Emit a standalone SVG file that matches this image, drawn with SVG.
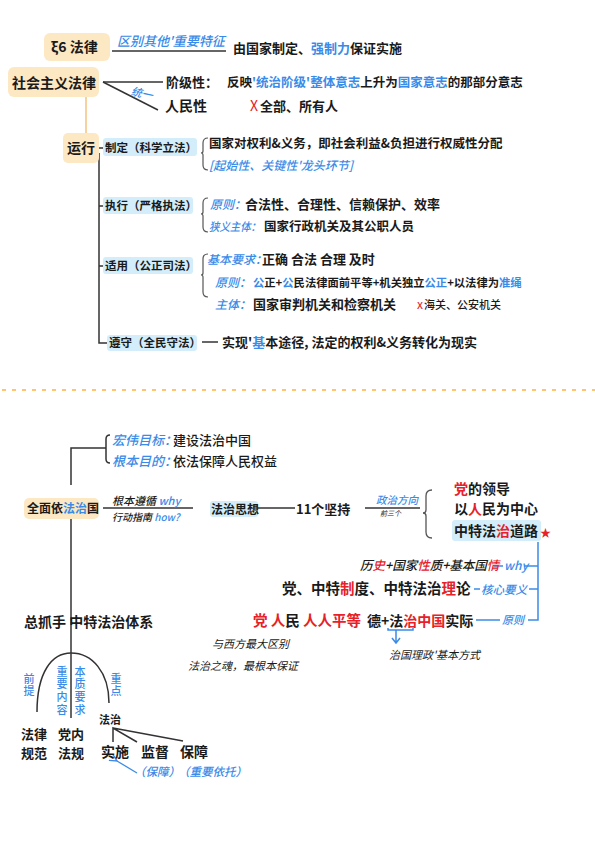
<svg xmlns="http://www.w3.org/2000/svg" width="595" height="842" viewBox="0 0 595 842">
<style>
text{font-family:"Noto Sans CJK SC","Noto Sans",sans-serif;}
.k{fill:#1a1a1a;font-weight:700}
.m{fill:#1a1a1a;font-weight:500}
.n{fill:#1a1a1a;font-weight:400}
.bi{fill:#3a8be8;font-style:italic;font-weight:500}
.b{fill:#3a8be8}
.r{fill:#e62129}
.ln{stroke:#333;stroke-width:1.5;fill:none}
.bl{stroke:#3a8be8;stroke-width:1.5;fill:none}
.or{fill:#fde8c4}
.hl{fill:#d3eefa}
.v{fill:#3a8be8;font-size:11px;font-weight:500;writing-mode:vertical-rl;letter-spacing:1.8px}
</style>
<defs>
<marker id="ah" viewBox="0 0 10 10" refX="1" refY="5" markerWidth="7" markerHeight="7" orient="auto-start-reverse"><path d="M9,1 L1,5 L9,9" fill="none" stroke="#3a8be8" stroke-width="1.5"/></marker>
</defs>
<rect width="595" height="842" fill="#fff"/>

<g id="connectors">
<line class="ln" x1="112" y1="51" x2="226" y2="51"/>
<line class="ln" x1="103" y1="82" x2="163" y2="82"/>
<line class="ln" x1="103" y1="82" x2="158" y2="110"/>
<line x1="86" y1="97" x2="86" y2="133" stroke="#f5c27e" stroke-width="1.5"/>
<line class="ln" x1="99" y1="148" x2="104" y2="148"/>
<path class="ln" d="M99,153 L99,343 L107,343"/>
<line class="ln" x1="99" y1="206" x2="104" y2="206"/>
<line class="ln" x1="99" y1="266" x2="104" y2="266"/>
<line class="ln" x1="202" y1="342" x2="218" y2="342"/>
<path d="M208,138 Q203,138 203,143 L203,151 Q203,153 201,153 Q203,153 203,155 L203,165 Q203,170 208,170" fill="none" stroke="#555" stroke-width="1.2"/>
<path d="M208,198 Q203,198 203,203 L203,212 Q203,214 201,214 Q203,214 203,216 L203,227 Q203,232 208,232" fill="none" stroke="#555" stroke-width="1.2"/>
<path d="M208,254 Q203,254 203,259 L203,273 Q203,275 201,275 Q203,275 203,277 L203,292 Q203,297 208,297" fill="none" stroke="#555" stroke-width="1.2"/>
<line x1="2" y1="390" x2="595" y2="390" stroke="#ffc470" stroke-width="2" stroke-dasharray="4 6"/>
<path class="ln" d="M71,485 L71,448 L106,448"/>
<path class="ln" d="M110,435 Q106,435 106,439 L106,459 Q106,463 110,463"/>
<line class="ln" x1="71" y1="518" x2="71" y2="718"/>
<line class="ln" x1="103" y1="508" x2="193" y2="508"/>
<line class="ln" x1="258" y1="508" x2="295" y2="508"/>
<line class="ln" x1="365" y1="508" x2="420" y2="508"/>
<path d="M432,490 Q426,490 426,496 L426,510 Q426,513 423,513 Q426,513 426,516 L426,532 Q426,538 432,538" fill="none" stroke="#555" stroke-width="1.3"/>
<path class="bl" d="M538,542 L538,620 L528,620"/>
<line class="bl" x1="494" y1="566" x2="503" y2="566"/>
<line class="bl" x1="524" y1="566" x2="538" y2="566"/>
<line class="bl" x1="474" y1="589" x2="480" y2="589"/>
<line class="bl" x1="529" y1="589" x2="538" y2="589"/>
<line class="bl" x1="476" y1="620" x2="500" y2="620"/>
<path class="bl" d="M388,628 L388,630 L413,630 L413,628"/>
<path class="bl" d="M396,630 L396,642 M392,638 L396,643 L400,638"/>
<path class="ln" d="M37,712 C37,672 52,653 71,653 C92,653 109,672 109,703"/>
<path class="ln" d="M113,742 L113,728 L137,742 M113,728 L183,741"/>
<line x1="137" y1="773" x2="117" y2="761" stroke="#3a8be8" stroke-width="1.3" marker-end="url(#ah)"/>
</g>

<g id="n-law6">
<rect class="or" x="44" y="33" width="66" height="28" rx="6"/>
<text class="k" x="51" y="52" font-size="14">ξ6 法律</text>
</g>
<g id="e-feature-label"><text class="bi" x="117" y="46" font-size="13">区别其他'重要特征</text></g>
<g id="n-feature"><text class="k" x="233" y="53" font-size="13">由国家制定、<tspan class="b">强制力</tspan>保证实施</text></g>

<g id="n-socialist-law">
<rect class="or" x="8" y="67" width="91" height="30" rx="6"/>
<text class="k" x="12" y="88" font-size="14">社会主义法律</text>
</g>
<g id="e-unify"><text class="bi" x="131" y="97" font-size="11" transform="rotate(12 140 93)">统一</text></g>
<g id="n-class"><text class="k" x="166" y="87" font-size="13">阶级性：</text>
<text class="k" x="227" y="87" font-size="12.5">反映<tspan class="b">'统治阶级'整体意志</tspan>上升为<tspan class="b">国家意志</tspan>的那部分意志</text></g>
<g id="n-people"><text class="k" x="165" y="111" font-size="14">人民性</text>
<text x="250" y="111" font-size="14" fill="#e62129" font-family="Liberation Sans,sans-serif">X</text>
<text class="k" x="260" y="111" font-size="13">全部、所有人</text></g>

<g id="n-run">
<rect class="or" x="63" y="133" width="36" height="30" rx="5"/>
<text class="k" x="67" y="153" font-size="14">运行</text>
</g>

<g id="n-legislation">
<rect class="hl" x="103" y="138" width="94" height="18" rx="3"/>
<text class="k" x="105" y="152" font-size="11.5">制定（科学立法）</text>
<text class="k" x="209" y="148" font-size="12.5">国家对权利&amp;义务，即社会利益&amp;负担进行权威性分配</text>
<text class="bi" x="209" y="170" font-size="12">[起始性、关键性'龙头环节]</text>
</g>

<g id="n-enforcement">
<rect class="hl" x="103" y="197" width="90" height="17" rx="3"/>
<text class="k" x="105" y="210" font-size="11.5">执行（严格执法）</text>
<text class="bi" x="210" y="209" font-size="12">原则：</text>
<text class="k" x="245" y="209" font-size="13">合法性、合理性、信赖保护、效率</text>
<text class="bi" x="209" y="231" font-size="11.5" textLength="52" lengthAdjust="spacingAndGlyphs">狭义主体：</text>
<text class="k" x="264" y="231" font-size="12.5">国家行政机关及其公职人员</text>
</g>

<g id="n-judicial">
<rect class="hl" x="103" y="257" width="90" height="17" rx="3"/>
<text class="k" x="105" y="270" font-size="11.5">适用（公正司法）</text>
<text class="bi" x="207" y="264" font-size="12">基本要求：</text>
<text class="k" x="262" y="264" font-size="13">正确 合法 合理 及时</text>
<text class="bi" x="215" y="287" font-size="12">原则：</text>
<text class="k" x="253" y="287" font-size="11.3"><tspan class="b">公</tspan>正+<tspan class="b">公</tspan>民法律面前平等+机关独立<tspan class="b">公正</tspan>+以法律为<tspan class="b">准绳</tspan></text>
<text class="bi" x="215" y="309" font-size="12">主体：</text>
<text class="k" x="253" y="309" font-size="13">国家审判机关和检察机关</text>
<text x="417" y="309" font-size="12" fill="#e62129" font-family="Liberation Sans,sans-serif">x</text>
<text class="m" x="424" y="309" font-size="11">海关、公安机关</text>
</g>

<g id="n-observance">
<rect class="hl" x="107" y="335" width="90" height="16" rx="3"/>
<text class="k" x="109" y="347" font-size="11.5">遵守（全民守法）</text>
<text class="k" x="222" y="347" font-size="13">实现'<tspan class="b">基</tspan>本途径, 法定的权利&amp;义务转化为现实</text>
</g>

<g id="n-goals">
<text class="bi" x="112" y="445" font-size="13">宏伟目标：</text>
<text class="m" x="173" y="445" font-size="13">建设法治中国</text>
<text class="bi" x="112" y="466" font-size="13">根本目的：</text>
<text class="m" x="173" y="466" font-size="13">依法保障人民权益</text>
</g>

<g id="n-rule-of-law">
<rect class="or" x="24" y="498" width="75" height="21" rx="5"/>
<text class="k" x="27" y="513" font-size="12">全面依<tspan class="b">法治</tspan>国</text>
</g>
<g id="e-guide">
<text class="m" x="112" y="505" font-size="11" font-style="italic">根本遵循 <tspan class="bi">why</tspan></text>
<text class="m" x="112" y="521" font-size="10" font-style="italic">行动指南 <tspan class="bi">how?</tspan></text>
</g>
<g id="n-thought">
<rect class="hl" x="210" y="501" width="48" height="16" rx="3"/>
<text class="k" x="211" y="514" font-size="12">法治思想</text>
</g>
<g id="n-11">
<text class="k" x="296" y="514" font-size="13">11个坚持</text>
</g>
<g id="e-direction">
<text class="bi" x="376" y="504" font-size="10.5">政治方向</text>
<text class="n" x="380" y="516" font-size="7" font-style="italic">前三个</text>
</g>
<g id="n-three">
<text class="k" x="454" y="494" font-size="14"><tspan class="r">党</tspan>的领导</text>
<text class="k" x="454" y="514" font-size="14">以<tspan class="r">人</tspan>民为中心</text>
<rect class="hl" x="452" y="520" width="89" height="21" rx="3"/>
<text class="k" x="454" y="536" font-size="14">中特法<tspan class="r">治</tspan>道路</text>
<text x="540" y="537" font-size="11" fill="#e62129" font-family="DejaVu Sans,sans-serif">★</text>
</g>

<g id="n-why">
<text class="m" x="360" y="570" font-size="12.5" font-style="italic">历<tspan class="r">史</tspan>+国家<tspan class="r">性</tspan>质+基本国<tspan class="r">情</tspan></text>
<text class="bi" x="504" y="570" font-size="12">why</text>
</g>
<g id="n-core">
<text class="k" x="282" y="594" font-size="14.5">党、中特<tspan class="r">制</tspan>度、中特法治<tspan class="r">理</tspan>论</text>
<text class="bi" x="481" y="594" font-size="11.5">核心要义</text>
</g>
<g id="n-principle">
<text class="k" x="253" y="626" font-size="14.5"><tspan class="r">党</tspan> <tspan class="r">人</tspan>民 <tspan class="r">人人平等</tspan></text>
<text class="k" x="367" y="626" font-size="14">德+法<tspan class="r">治</tspan><tspan class="r">中国</tspan>实际</text>
<text class="bi" x="502" y="624" font-size="11">原则</text>
<text class="n" x="389" y="659" font-size="11" font-style="italic">治国理政'基本方式</text>
<text class="n" x="212" y="648" font-size="11" font-style="italic">与西方最大区别</text>
<text class="n" x="188" y="670" font-size="11" font-style="italic">法治之魂，最根本保证</text>
</g>

<g id="n-system">
<text class="k" x="24" y="627" font-size="14">总抓手 中特法治体系</text>
</g>
<g id="e-labels">
<text class="v" x="29" y="673">前提</text>
<text class="v" x="62" y="666">重要内容</text>
<text class="v" x="80" y="666">本质要求</text>
<text class="v" x="116" y="673">重点</text>
</g>
<g id="n-norms">
<text class="k" x="21" y="739" font-size="13">法律</text>
<text class="k" x="21" y="758" font-size="13">规范</text>
</g>
<g id="n-party">
<text class="k" x="58" y="739" font-size="13">党内</text>
<text class="k" x="58" y="758" font-size="13">法规</text>
</g>
<g id="n-fazhi"><text class="k" x="99" y="724" font-size="11">法治</text></g>
<g id="n-impl"><text class="k" x="101" y="757" font-size="14">实施</text></g>
<g id="n-super"><text class="k" x="141" y="757" font-size="14">监督</text></g>
<g id="n-guar"><text class="k" x="180" y="757" font-size="14">保障</text></g>
<g id="n-notes">
<text class="bi" x="134" y="776" font-size="11.5">（保障）</text>
<text class="bi" x="178" y="776" font-size="11.5">（重要依托）</text>
</g>
</svg>
